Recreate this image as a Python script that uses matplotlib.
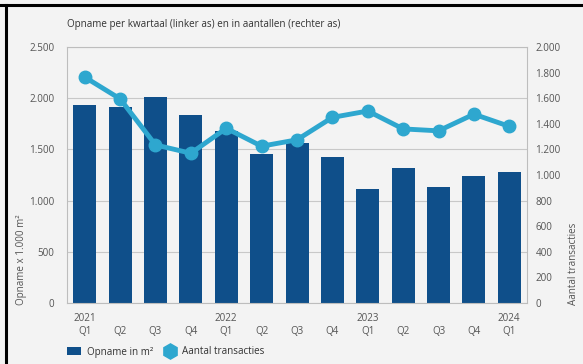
import matplotlib
matplotlib.use("Agg")
import matplotlib.pyplot as plt
from matplotlib.lines import Line2D
from matplotlib.patches import Patch
from matplotlib.ticker import FuncFormatter

plt.rcParams['font.family'] = ['Open Sans', 'DejaVu Sans']

quarters = ["Q1", "Q2", "Q3", "Q4", "Q1", "Q2", "Q3", "Q4", "Q1", "Q2", "Q3", "Q4", "Q1"]
years = ["2021", "", "", "", "2022", "", "", "", "2023", "", "", "", "2024"]
opname = [1930, 1910, 2010, 1835, 1680, 1455, 1560, 1425, 1110, 1320, 1135, 1240, 1280]
transacties = [1765, 1595, 1235, 1170, 1365, 1225, 1275, 1450, 1500, 1360, 1345, 1475, 1380]

bar_color = "#0f4f8a"
line_color = "#2ea7cf"
text_color = "#555555"
bg = "#f3f3f3"
fs = 7.1

fig = plt.figure(figsize=(5.83, 3.64), dpi=100, facecolor=bg)
ax = fig.add_axes([67 / 583, 1 - 303 / 364, 460 / 583, 256 / 364])
ax.set_facecolor(bg)

x = list(range(len(opname)))
ax.bar(x, opname, width=0.65, color=bar_color, zorder=2)
ax.set_xlim(-0.5, len(opname) - 0.5)
ax.set_ylim(0, 2500)
ax.set_yticks(range(0, 2501, 500))

def dotfmt(v, _pos):
    return f"{int(v):,}".replace(",", ".")

ax.yaxis.set_major_formatter(FuncFormatter(dotfmt))
ax.grid(axis="y", color="#c8c8c8", linewidth=0.8, zorder=0)
ax.set_xticks(x)
ax.set_xticklabels([f"{y}\n{q}" for y, q in zip(years, quarters)], linespacing=1.25)
ax.tick_params(axis="both", length=0, labelsize=fs, colors=text_color)
ax.tick_params(axis="x", pad=7)
ax.tick_params(axis="y", pad=9)
for s in ax.spines.values():
    s.set_color("#bdbdbd")
    s.set_linewidth(0.8)

ax2 = ax.twinx()
ax2.plot(x, transacties, color=line_color, linewidth=3.5, marker="o",
         markersize=9, zorder=3)
ax2.set_ylim(0, 2000)
ax2.set_yticks(range(0, 2001, 200))
ax2.yaxis.set_major_formatter(FuncFormatter(dotfmt))
ax2.tick_params(axis="y", length=0, labelsize=fs, colors=text_color, pad=6)
for s in ax2.spines.values():
    s.set_visible(False)

fig.text(67 / 583, 1 - 25 / 364, "Opname per kwartaal (linker as) en in aantallen (rechter as)",
         fontsize=fs, color="#333333", va="center", ha="left")
fig.text(22 / 583, 1 - 305 / 364, "Opname x 1.000 m²", rotation=90,
         fontsize=fs, color=text_color, va="bottom", ha="center")
fig.text(573 / 583, 1 - 305 / 364, "Aantal transacties", rotation=90,
         fontsize=fs, color=text_color, va="bottom", ha="center")

handles = [
    Patch(facecolor=bar_color, edgecolor="none", label="Opname in m²"),
    Line2D([], [], color=line_color, marker="h", linestyle="none",
           markersize=11, label="Aantal transacties"),
]
fig.legend(handles=handles, loc="center left", bbox_to_anchor=(58 / 583, 1 - 352 / 364),
           ncol=2, frameon=False, fontsize=fs, labelcolor="#333333",
           handlelength=1.4, handleheight=0.8, columnspacing=1.0, handletextpad=0.6)

# frame lines along top and left edge
fig.add_artist(Line2D([0, 1], [1 - 5 / 364, 1 - 5 / 364], color="black", linewidth=2.2,
                      transform=fig.transFigure))
fig.add_artist(Line2D([6 / 583, 6 / 583], [0, 1 - 5 / 364], color="black", linewidth=2.2,
                      transform=fig.transFigure))

fig.savefig("out.png", dpi=100, facecolor=bg)
